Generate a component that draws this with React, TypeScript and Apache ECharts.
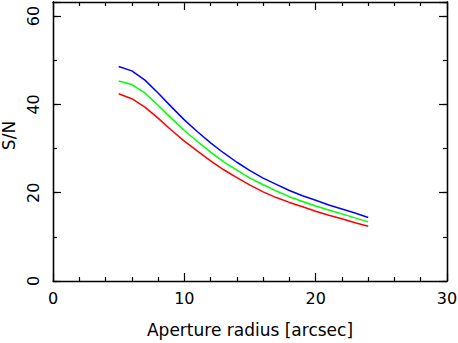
import React, { useEffect, useRef } from "react";
import * as echarts from "echarts";

const radius = [5, 6, 7, 8, 9, 10, 11, 12, 13, 14, 15, 16, 17, 18, 19, 20, 21, 22, 23, 24];
const snBlue = [48.6, 47.6, 45.5, 42.6, 39.5, 36.5, 33.8, 31.3, 29.0, 26.9, 25.0, 23.3, 21.9, 20.5, 19.3, 18.3, 17.2, 16.3, 15.4, 14.4];
const snGreen = [45.3, 44.5, 42.6, 39.8, 36.9, 34.1, 31.6, 29.2, 27.0, 25.1, 23.3, 21.8, 20.4, 19.1, 18.0, 17.0, 16.1, 15.2, 14.3, 13.4];
const snRed = [42.4, 41.3, 39.4, 36.9, 34.2, 31.7, 29.4, 27.2, 25.2, 23.4, 21.7, 20.2, 18.9, 17.8, 16.8, 15.8, 14.9, 14.1, 13.2, 12.4];
const xTickLabels = ["0", "10", "20", "30"];
const yTickLabels = ["0", "20", "40", "60"];

const FONT = "DejaVu Sans";
const AX = "#000";

export default function App() {
  const ref = useRef<HTMLDivElement>(null);
  useEffect(() => {
    if (!ref.current) return;
    const chart = echarts.init(ref.current, null, { renderer: "svg" });
    const line = { lineStyle: { color: AX, width: 1.3 } };
    const mk = (data: number[], color: string) => ({
      type: "line",
      data: radius.map((r, i) => [r, data[i]]),
      showSymbol: false,
      symbol: "none",
      lineStyle: { color, width: 1.5 },
      xAxisIndex: 0,
      yAxisIndex: 0,
    });
    const yBase = (position: string, interval: number, len: number, labels: boolean) => ({
      type: "value",
      position,
      min: 0,
      max: 63.2,
      interval,
      axisLine: { show: true, ...line },
      axisTick: { show: true, inside: true, length: len, lineStyle: { color: AX, width: 1.2 } },
      splitLine: { show: false },
      axisLabel: labels
        ? {
            show: true,
            rotate: 90,
            margin: 12,
            fontFamily: FONT,
            fontSize: 16,
            color: "#000",
            formatter: (v: number) => (yTickLabels.includes(String(v)) ? String(v) : ""),
          }
        : { show: false },
    });
    const xBase = (position: string, labels: boolean) => ({
      type: "value",
      position,
      min: 0,
      max: 30,
      interval: 10,
      axisLine: { show: true, onZero: false, ...line },
      axisTick: { show: true, inside: true, length: 8, lineStyle: { color: AX, width: 1.2 } },
      minorTick: { show: true, splitNumber: 5, length: 4, lineStyle: { color: AX, width: 1.2 } },
      splitLine: { show: false },
      minorSplitLine: { show: false },
      axisLabel: labels
        ? {
            show: true,
            margin: 9,
            fontFamily: FONT,
            fontSize: 16,
            color: "#000",
            formatter: (v: number) => (xTickLabels.includes(String(v)) ? String(v) : ""),
          }
        : { show: false },
    });
    chart.setOption({
      animation: false,
      backgroundColor: "#fff",
      grid: { left: 53, right: 11, top: 2, bottom: 62, containLabel: false, outerBoundsMode: "none" },
      xAxis: [
        {
          ...xBase("bottom", true),
          name: "Aperture radius [arcsec]",
          nameLocation: "middle",
          nameGap: 40,
          nameTextStyle: { fontFamily: FONT, fontSize: 17, color: "#000" },
        },
        xBase("top", false),
      ],
      yAxis: [
        {
          ...yBase("left", 20, 8, true),
          name: "S/N",
          nameLocation: "middle",
          nameGap: 36,
          nameRotate: 90,
          nameTextStyle: { fontFamily: FONT, fontSize: 17, color: "#000", padding: [0, 0, 0, 12] },
        },
        yBase("left", 10, 4, false),
        yBase("right", 20, 8, false),
        yBase("right", 10, 4, false),
      ],
      series: [mk(snBlue, "#0000ff"), mk(snGreen, "#00ff00"), mk(snRed, "#ff0000")],
    });
    return () => chart.dispose();
  }, []);
  return (
    <div
      ref={ref}
      style={{ position: "absolute", left: 0, top: 0, width: 458, height: 343, background: "#fff" }}
    />
  );
}
